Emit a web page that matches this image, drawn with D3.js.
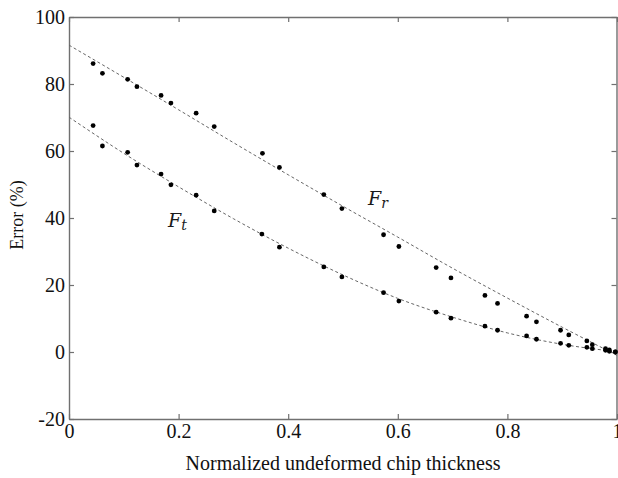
<!DOCTYPE html>
<html>
<head>
<meta charset="utf-8">
<script src="https://cdn.jsdelivr.net/npm/d3@7/dist/d3.min.js"></script>
<style>
  body { margin: 0; background: #fff; }
  svg { display: block; }
  .serif { font-family: "Liberation Serif", "LiberationSerif", "Tinos", "Times New Roman", Times, "DejaVu Serif"; }
</style>
</head>
<body>
<svg id="chart" width="618" height="478"></svg>
<script>
// ---- data ----
const frX = [0.044,0.061,0.107,0.124,0.168,0.186,0.232,0.265,0.353,0.384,0.465,0.498,0.574,0.602,0.670,0.697,0.759,0.782,0.835,0.853,0.897,0.912,0.945,0.955,0.979,0.986,0.997];
const frY = [86.1,83.2,81.4,79.2,76.6,74.3,71.3,67.3,59.3,55.1,47.0,42.8,35.0,31.5,25.2,22.1,16.9,14.5,10.7,9.0,6.5,5.1,3.3,2.2,1.0,0.6,0.0];
const ftX = [0.044,0.061,0.107,0.124,0.168,0.186,0.232,0.265,0.352,0.384,0.465,0.498,0.574,0.602,0.670,0.697,0.759,0.782,0.835,0.853,0.897,0.912,0.945,0.955,0.979,0.986,0.997];
const ftY = [67.6,61.5,59.6,55.8,53.1,49.9,46.8,42.1,35.2,31.3,25.4,22.4,17.7,15.2,11.9,10.1,7.7,6.5,4.8,3.8,2.6,2.0,1.4,1.0,0.5,0.2,0.0];
// fitted trend lines (dashed)
const fitX   = [0, 0.1, 0.2, 0.3, 0.4, 0.5, 0.6, 0.7, 0.8, 0.9, 1.0];
const frFitY = [91.6, 82.0, 72.3, 62.5, 52.9, 43.5, 34.3, 25.0, 16.1, 7.4, -1.0];
const ftFitY = [70.1, 59.3, 49.3, 39.8, 31.0, 23.0, 16.0, 10.4, 5.7, 2.3, 0.1];
const xTicks = [0, 0.2, 0.4, 0.6, 0.8, 1];
const yTicks = [-20, 0, 20, 40, 60, 80, 100];
const xLabel = "Normalized undeformed chip thickness";
const yLabel = "Error (%)";

// ---- layout ----
const W = 618, H = 478;
const m = { left: 69, right: 1, top: 17, bottom: 59 };
const svg = d3.select("#chart");
const x = d3.scaleLinear().domain([0, 1]).range([m.left, W - m.right]);
const y = d3.scaleLinear().domain([-20, 100]).range([H - m.bottom, m.top]);

const axisColor = "#707070";

function styleAxis(g) {
  g.attr("font-family", null).attr("font-size", null);
  g.selectAll("path.domain").attr("stroke", axisColor).attr("stroke-width", 1.4);
  g.selectAll(".tick line").attr("stroke", axisColor).attr("stroke-width", 1.2);
  g.selectAll(".tick text").attr("class", "serif").attr("fill", "#111").style("font-size", "20px");
}
const fmt = d => String(d);

// bottom
svg.append("g").attr("transform", `translate(0,${H - m.bottom})`)
  .call(d3.axisBottom(x).tickValues(xTicks).tickFormat(fmt).tickSizeInner(-5).tickSizeOuter(0).tickPadding(5))
  .call(styleAxis);
// top
svg.append("g").attr("transform", `translate(0,${m.top})`)
  .call(d3.axisTop(x).tickValues(xTicks).tickFormat("").tickSizeInner(-5).tickSizeOuter(0))
  .call(styleAxis);
// left
svg.append("g").attr("transform", `translate(${m.left},0)`)
  .call(d3.axisLeft(y).tickValues(yTicks).tickFormat(fmt).tickSizeInner(-5).tickSizeOuter(0).tickPadding(4))
  .call(styleAxis);
// right
svg.append("g").attr("transform", `translate(${W - m.right - 0.5},0)`)
  .call(d3.axisRight(y).tickValues(yTicks).tickFormat("").tickSizeInner(-5).tickSizeOuter(0))
  .call(styleAxis);

// fitted dashed lines
const line = d3.line().x(d => x(d[0])).y(d => y(d[1])).curve(d3.curveMonotoneX);
[frFitY, ftFitY].forEach(arr => {
  svg.append("path")
    .datum(fitX.map((v, i) => [v, arr[i]]))
    .attr("d", line)
    .attr("fill", "none")
    .attr("stroke", "#666")
    .attr("stroke-width", 1)
    .attr("stroke-dasharray", "3,2.5");
});

// points
function dots(xs, ys) {
  svg.append("g").selectAll("circle")
    .data(xs.map((v, i) => [v, ys[i]]))
    .join("circle")
    .attr("cx", d => x(d[0]))
    .attr("cy", d => y(d[1]))
    .attr("r", 2.4)
    .attr("fill", "#000");
}
dots(frX, frY);
dots(ftX, ftY);

// series labels
function seriesLabel(px, py, sub) {
  const t = svg.append("text").attr("x", px).attr("y", py)
    .style("font-family", "'DejaVu Serif', serif").style("font-style", "italic")
    .style("font-size", "19px").attr("fill", "#1a1a1a");
  t.append("tspan").text("F");
  t.append("tspan").attr("dy", 3).style("font-size", "14px").text(sub);
}
seriesLabel(368, 205, "r");
seriesLabel(168, 227, "t");

// axis titles
svg.append("text").attr("class", "serif")
  .attr("x", (m.left + W - m.right) / 2).attr("y", 470)
  .attr("text-anchor", "middle")
  .style("font-size", "20px").attr("fill", "#111")
  .text(xLabel);
svg.append("text").attr("class", "serif")
  .attr("transform", "translate(23,215) rotate(-90)")
  .attr("text-anchor", "middle")
  .style("font-size", "18px").attr("fill", "#111")
  .text(yLabel);
</script>
</body>
</html>
